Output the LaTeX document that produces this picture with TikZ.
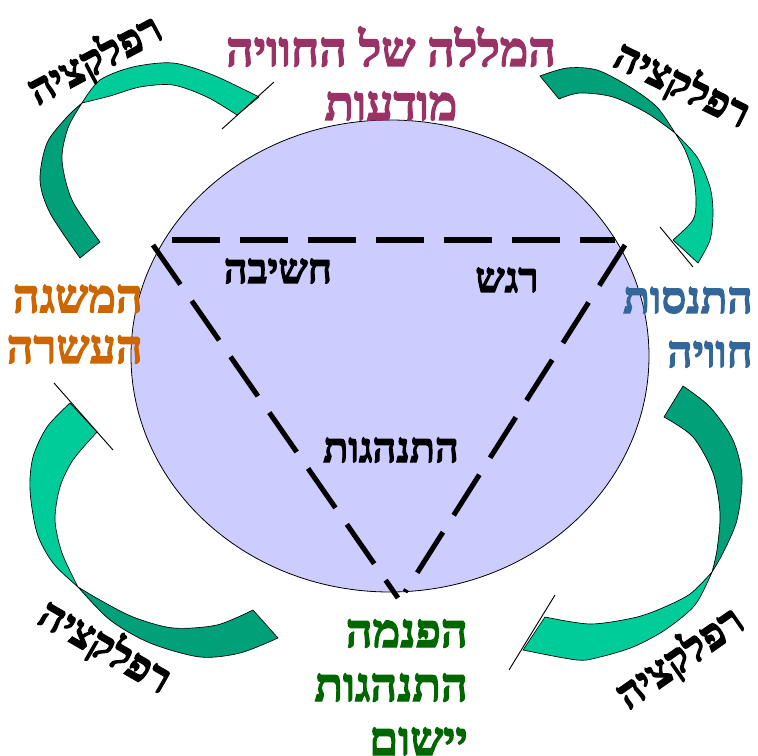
\documentclass[tikz,border=0pt]{standalone}
\usepackage{fontspec}
\setmainfont{Liberation Serif}
\newfontfamily\hebfont[Script=Hebrew, BoldFeatures={FakeBold=2.8}]{Liberation Serif}
\TeXXeTstate=1
\usepackage{xcolor}
\definecolor{discfill}{RGB}{204,204,255}
\definecolor{titlecol}{RGB}{153,51,102}
\definecolor{conceptcol}{RGB}{204,102,0}
\definecolor{experiencecol}{RGB}{51,102,153}
\definecolor{applycol}{RGB}{0,102,0}
\definecolor{bandlight}{RGB}{0,204,153}
\definecolor{banddark}{RGB}{0,160,120}

\begin{document}
\begin{tikzpicture}[x=0.75pt, y=0.75pt,
  heb/.style={font=\hebfont\bfseries\fontsize{#1}{40.5}\selectfont, inner sep=0pt},
  heb/.default=32,
  hebtight/.style={font=\hebfont\bfseries\fontsize{#1}{38}\selectfont, inner sep=0pt},
  stage/.style={align=right, anchor=base east},
  refl/.style={heb, anchor=center},
  band/.style={draw=black, line width=0.5pt},
  bandend/.style={draw=black, line width=0.7pt},
  tri/.style={line width=3.8pt, dash pattern=on 36pt off 15pt}
]
  \useasboundingbox (0,0) rectangle (758,-756);

  \draw[fill=discfill, line width=0.6pt] (390,-356) ellipse [x radius=259, y radius=236];

  \coordinate (topL) at (172,-240);
  \coordinate (topR) at (615,-240);
  \coordinate (leftT) at (153,-245);
  \coordinate (rightT) at (625,-245);
  \coordinate (botL) at (398,-598);
  \coordinate (botR) at (405,-592);
  \draw[tri] (topL) -- (topR);
  \draw[tri] (leftT) -- (botL);
  \draw[tri] (rightT) -- (botR);

  \filldraw[band, fill=banddark] plot[smooth] coordinates {(80,-258) (50,-213) (40,-180) (47,-143) (67,-117) (82,-103)}
    -- plot[smooth] coordinates {(82,-103) (68,-128) (62,-160) (72,-200) (100,-242)} -- cycle;
  \filldraw[band, fill=bandlight] plot[smooth] coordinates {(82,-103) (100,-80) (133,-67) (173,-63) (213,-75) (259,-97)}
    -- plot[smooth] coordinates {(237,-115) (207,-97) (173,-85) (140,-87) (110,-96) (82,-103)} -- cycle;
  \coordinate (tlA) at (222,-129);
  \coordinate (tlB) at (274,-82);
  \draw[bandend] (tlA) -- (tlB);

  \filldraw[band, fill=banddark] plot[smooth] coordinates {(540,-76) (567,-68) (597,-70) (630,-87) (657,-107) (675,-133)}
    -- plot[smooth] coordinates {(675,-133) (647,-113) (613,-97) (580,-93) (559,-99)} -- cycle;
  \filldraw[band, fill=bandlight] plot[smooth] coordinates {(675,-133) (697,-157) (710,-187) (713,-213) (710,-240) (698,-263)}
    -- plot[smooth] coordinates {(673,-240) (693,-220) (696,-200) (693,-173) (685,-150) (675,-133)} -- cycle;
  \coordinate (trA) at (660,-227);
  \coordinate (trB) at (693,-267);
  \draw[bandend] (trA) -- (trB);

  \filldraw[band, fill=banddark] plot[smooth] coordinates {(683,-386) (710,-407) (733,-440) (742,-477) (737,-520) (723,-553) (712,-572)}
    -- plot[smooth] coordinates {(712,-572) (717,-550) (720,-513) (713,-473) (693,-437) (664,-417)} -- cycle;
  \filldraw[band, fill=bandlight] plot[smooth] coordinates {(712,-572) (695,-605) (665,-630) (633,-647) (600,-657) (577,-660) (523,-650)}
    -- plot[smooth] coordinates {(545,-617) (590,-624) (633,-618) (660,-609) (690,-594) (712,-572)} -- cycle;
  \coordinate (brA) at (509,-670);
  \coordinate (brB) at (555,-595);
  \draw[bandend] (brA) -- (brB);

  \filldraw[band, fill=bandlight] plot[smooth] coordinates {(70,-403) (47,-427) (33,-457) (30,-490) (37,-533) (53,-563) (78,-587)}
    -- plot[smooth] coordinates {(78,-587) (62,-553) (55,-520) (60,-487) (73,-460) (97,-432)} -- cycle;
  \filldraw[band, fill=banddark] plot[smooth] coordinates {(78,-587) (110,-620) (150,-643) (200,-657) (240,-653) (278,-638)}
    -- plot[smooth] coordinates {(253,-610) (217,-625) (173,-628) (133,-617) (100,-600) (78,-587)} -- cycle;
  \coordinate (blA) at (54,-383);
  \coordinate (blB) at (113,-450);
  \draw[bandend] (blA) -- (blB);

  \node[heb=36, titlecol, align=center, anchor=base] (aware) at (391,-120) {\beginR המללה של החוויה\endR\\ \beginR מודעות\endR};
  \node[heb=31, anchor=base] (thought) at (278,-283) {\beginR חשיבה\endR};
  \node[heb=31, anchor=base] (feeling) at (507,-292) {\beginR רגש\endR};
  \node[heb=31, anchor=base] (behave) at (391,-462) {\beginR התנהגות\endR};
  \node[hebtight=35, stage, conceptcol] (concept) at (143,-363) {\beginR המשגה\endR\\ \beginR העשרה\endR};
  \node[heb=33, stage, experiencecol] (experience) at (753,-367) {\beginR התנסות\endR\\ \beginR חוויה\endR};
  \node[heb=35, stage, applycol] (apply) at (468,-755) {\beginR הפנמה\endR\\ \beginR התנהגות\endR\\ \beginR יישום\endR};

  \node[refl, rotate=28] (reflTL) at (95,-60) {\beginR רפלקציה\endR};
  \node[refl, rotate=-26] (reflTR) at (682,-85) {\beginR רפלקציה\endR};
  \node[refl, rotate=-30] (reflBL) at (105,-647) {\beginR רפלקציה\endR};
  \node[refl, rotate=35] (reflBR) at (680,-658) {\beginR רפלקציה\endR};
\end{tikzpicture}
\end{document}
